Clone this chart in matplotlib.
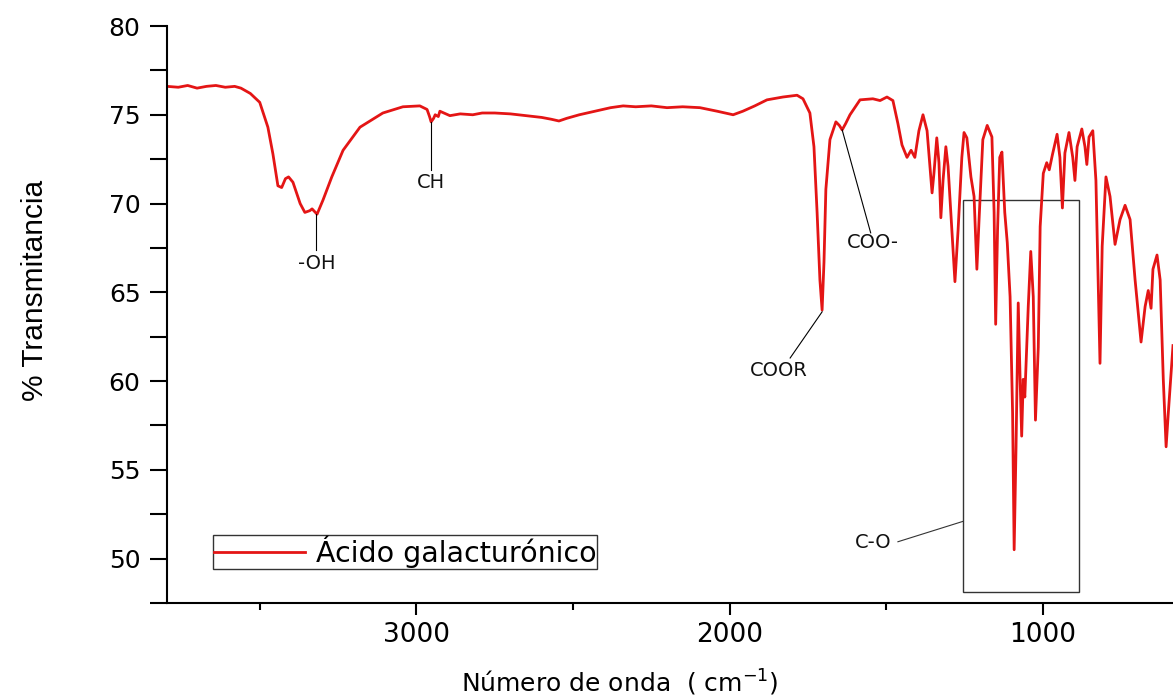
import matplotlib.pyplot as plt
from matplotlib.patches import Rectangle
from matplotlib.ticker import MultipleLocator

# FTIR spectrum, galacturonic acid (wavenumber cm-1, % transmittance)
wavenumber = [3796, 3760, 3730, 3700, 3670, 3640, 3610, 3580, 3560, 3530,
              3500, 3474, 3458, 3442, 3430, 3418, 3408, 3394, 3371, 3356,
              3340, 3333, 3317, 3298, 3270, 3234, 3180, 3107, 3043, 2989,
              2966, 2958, 2953, 2945, 2940, 2930, 2925, 2893, 2860, 2820,
              2790, 2750, 2700, 2650, 2600, 2570, 2545, 2520, 2480, 2430,
              2380, 2340, 2300, 2250, 2200, 2150, 2095, 2040, 1989, 1958,
              1920, 1881, 1830, 1785, 1766, 1744, 1731, 1721, 1712, 1705,
              1699, 1693, 1680, 1661, 1650, 1641, 1630, 1616, 1584, 1543,
              1520, 1498, 1479, 1463, 1450, 1434, 1421, 1409, 1396, 1383,
              1370, 1354, 1348, 1339, 1332, 1326, 1319, 1310, 1303, 1291,
              1281, 1271, 1259, 1252, 1243, 1230, 1220, 1211, 1204, 1192,
              1178, 1163, 1156, 1151, 1145, 1138, 1131, 1122, 1114, 1105,
              1097, 1092, 1086, 1079, 1073, 1068, 1063, 1058, 1047, 1039,
              1031, 1024, 1015, 1009, 999, 988, 980, 970, 955, 946,
              938, 930, 917, 905, 898, 891, 876, 866, 860, 853,
              841, 831, 824, 818, 811, 799, 786, 770, 754, 738,
              722, 706, 687, 674, 664, 655, 649, 636, 626, 616,
              607, 600, 585]
transmitancia = [76.6, 76.55, 76.65, 76.5, 76.6, 76.65, 76.55, 76.6, 76.5, 76.2,
                 75.7, 74.3, 72.8, 71.0, 70.9, 71.4, 71.5, 71.2, 70.0, 69.5,
                 69.6, 69.7, 69.4, 70.2, 71.5, 73.0, 74.3, 75.1, 75.45, 75.5,
                 75.3, 74.9, 74.6, 74.8, 75.0, 74.9, 75.2, 74.95, 75.05, 75.0,
                 75.1, 75.1, 75.05, 74.95, 74.85, 74.75, 74.65, 74.8, 75.0, 75.2,
                 75.4, 75.5, 75.45, 75.5, 75.4, 75.45, 75.4, 75.2, 75.0, 75.2,
                 75.5, 75.84, 76.0, 76.1, 75.9, 75.1, 73.2, 69.5, 65.7, 64.0,
                 66.7, 70.8, 73.6, 74.6, 74.4, 74.15, 74.5, 75.0, 75.84, 75.9,
                 75.8, 76.0, 75.8, 74.5, 73.3, 72.6, 73.0, 72.6, 74.1, 75.0,
                 74.1, 70.6, 71.7, 73.7, 72.3, 69.2, 71.3, 73.2, 72.1, 68.5,
                 65.6, 68.5, 72.6, 74.0, 73.7, 71.5, 70.4, 66.3, 69.1, 73.6,
                 74.4, 73.75, 69.5, 63.2, 68.5, 72.6, 72.9, 69.5, 67.8, 64.75,
                 58.2, 50.5, 56.3, 64.4, 60.1, 56.9, 60.1, 59.1, 64.2, 67.3,
                 64.75, 57.8, 61.9, 68.7, 71.7, 72.3, 71.9, 72.74, 73.9, 72.6,
                 69.75, 72.85, 74.0, 72.6, 71.3, 73.2, 74.2, 73.2, 72.2, 73.75,
                 74.1, 71.3, 65.7, 61.0, 67.6, 71.5, 70.4, 67.7, 69.1, 69.9,
                 69.1, 65.7, 62.2, 64.2, 65.1, 64.1, 66.3, 67.1, 65.7, 60.1,
                 56.3, 58.2, 62.0]

serie = 'Ácido galacturónico'

fig = plt.figure(figsize=(11.73, 6.96), dpi=100)
ax = fig.add_axes([167 / 1173, 93 / 696, 1 - 167 / 1173, 577 / 696])

ax.plot(wavenumber, transmitancia, color='#e41515', lw=2.0, label=serie)

ax.set_xlim(3796, 585)
ax.set_ylim(47.5, 80)

ax.spines['top'].set_visible(False)
ax.spines['right'].set_visible(False)
ax.spines['left'].set_linewidth(1.5)
ax.spines['bottom'].set_linewidth(1.5)

ax.xaxis.set_major_locator(MultipleLocator(1000))
ax.xaxis.set_minor_locator(MultipleLocator(500))
ax.yaxis.set_major_locator(MultipleLocator(5))
ax.yaxis.set_minor_locator(MultipleLocator(2.5))
ax.tick_params(axis='y', which='both', direction='out', length=12, width=1.5,
               pad=7, labelsize=18)
ax.tick_params(axis='x', which='major', direction='out', length=8.5, width=1.5,
               pad=5, labelsize=19)
ax.tick_params(axis='x', which='minor', direction='out', length=5, width=1.5)

# band assignments
txt = dict(fontsize=14, ha='center', va='center', color='#111111')
lk = dict(color='black', lw=0.8)

ax.plot([3320, 3320], [69.4, 67.4], **lk)
ax.text(3317, 66.6, '-OH', **txt)

ax.plot([2953, 2953], [74.6, 71.9], **lk)
ax.text(2953, 71.2, 'CH', **txt)

ax.plot([1705, 1807], [63.9, 61.3], **lk)
ax.text(1843, 60.6, 'COOR', **txt)

ax.plot([1641, 1550], [74.15, 68.35], **lk)
ax.text(1543, 67.8, 'COO-', **txt)

ax.add_patch(Rectangle((885, 48.1), 1255 - 885, 70.2 - 48.1, fill=False,
                       edgecolor='#333333', lw=1.0))
ax.plot([1463, 1255], [50.95, 52.1], color='#333333', lw=0.8)
ax.text(1543, 50.9, 'C-O', **txt)

leg = ax.legend(loc='lower left', bbox_to_anchor=(0.0457, 0.059), fontsize=20.5,
                frameon=True, fancybox=False, framealpha=1, edgecolor='#333333',
                handlelength=3.2, handletextpad=0.4, borderpad=0.02,
                borderaxespad=0)
leg.get_frame().set_linewidth(1.0)

plt.rcParams['mathtext.default'] = 'regular'
fig.text(620 / 1173, 1 - 683 / 696, 'Número de onda  ( cm$^{-1}$)',
         fontsize=18, ha='center', va='center')
fig.text(35 / 1173, 1 - 290 / 696, '% Transmitancia', rotation=90,
         fontsize=21.5, ha='center', va='center',
         family=['Liberation Sans Narrow', 'Liberation Sans'])

plt.savefig('out.png', dpi=100)
